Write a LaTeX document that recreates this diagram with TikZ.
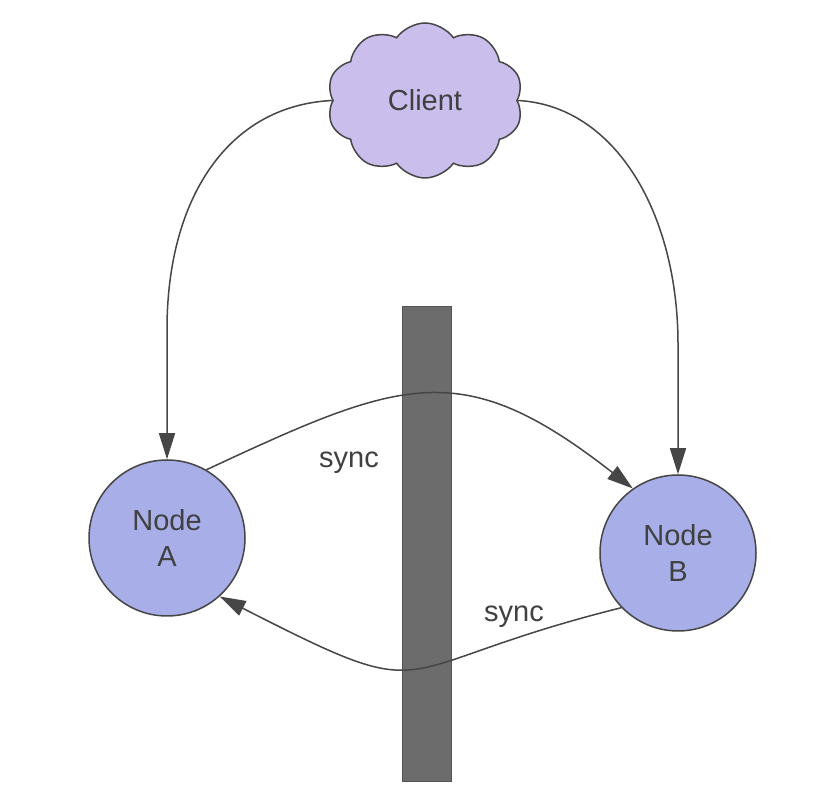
\documentclass[tikz,border=0pt]{standalone}
\usepackage{fontspec}
\setmainfont{Liberation Sans}
\usetikzlibrary{shapes.symbols,arrows.meta,calc}
\definecolor{cloudfill}{RGB}{201,190,236}
\definecolor{nodefill}{RGB}{168,174,232}
\definecolor{linegray}{RGB}{70,70,70}
\definecolor{textgray}{RGB}{64,64,64}
\definecolor{barfill}{RGB}{108,108,108}
\definecolor{barline}{RGB}{85,85,85}
\begin{document}
\begin{tikzpicture}[x=1pt,y=1pt,
  every node/.style={font=\fontsize{29}{36}\selectfont, text=textgray},
  clientcloud/.style={cloud, cloud puffs=10, cloud puff arc=110, aspect=1.3, draw=linegray, line width=1.5pt, fill=cloudfill, minimum width=196, minimum height=155, inner sep=0},
  peer/.style={circle, draw=linegray, line width=1.5pt, fill=nodefill, minimum size=156, inner sep=0, align=center},
  wallbar/.style={rectangle, draw=barline, line width=1pt, fill=barfill, minimum width=49, minimum height=475, inner sep=0},
  conn/.style={draw=linegray, line width=1.5pt, -{Triangle[length=26pt,width=16pt]}},
  lbl/.style={inner sep=0, anchor=base}]
\useasboundingbox (0,0) rectangle (830,794);
\fill[white] (0,0) rectangle (830,794);
\node[wallbar] (wall) at (426.5,249.5) {};
\node[clientcloud] (client) at (425,693.5) {Client};
\node[peer] (A) at (167,256) {Node\\A};
\node[peer] (B) at (678,241) {Node\\B};
\node[lbl] (s1) at (349,326) {sync};
\node[lbl] (s2) at (514,172) {sync};
\draw[conn] (client.west) .. controls +(-105,-5) and +(0,130) .. ($(A.north)+(0,130)$) -- (A.north);
\draw[conn] (client.east) .. controls +(98,-5) and +(0,130) .. ($(B.north)+(0,130)$) -- (B.north);
\draw[conn] (A.60) to[out=25,in=142,looseness=1.3] (B.125);
\draw[conn] (B.224) to[out=194,in=-27,looseness=1.6] (A.-48);
\end{tikzpicture}
\end{document}
